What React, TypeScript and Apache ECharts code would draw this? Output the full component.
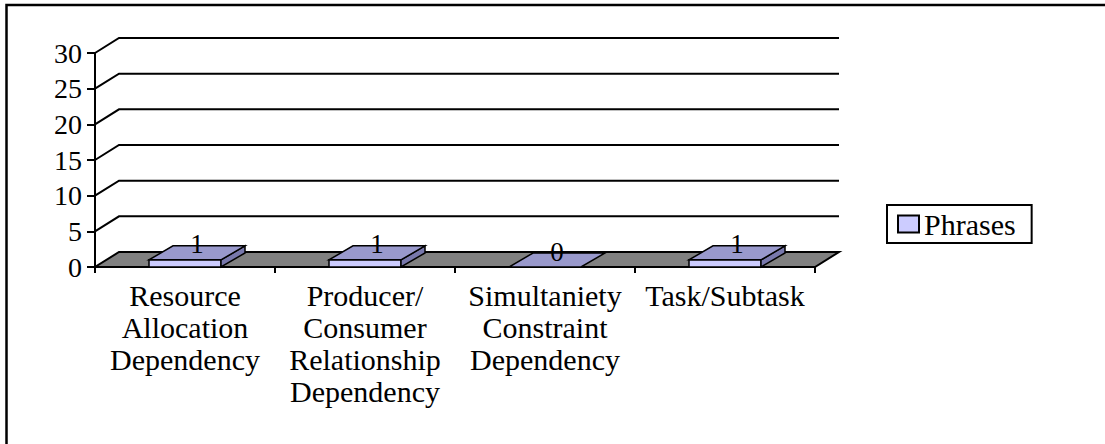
import React, { useEffect, useRef } from "react";
import * as echarts from "echarts";

const categories = [
  "Resource\nAllocation\nDependency",
  "Producer/\nConsumer\nRelationship\nDependency",
  "Simultaniety\nConstraint\nDependency",
  "Task/Subtask",
];
const phrases = [1, 1, 0, 1];
const yTicks = [0, 5, 10, 15, 20, 25, 30];
const seriesName = "Phrases";

const WALL_DX = 24;
const WALL_DY = -15;
const BAR_DX = 24;
const BAR_DY = -14;
const FONT = "Liberation Serif";

export default function App() {
  const ref = useRef<HTMLDivElement>(null);

  useEffect(() => {
    const chart = echarts.init(ref.current!, null, { renderer: "svg" });

    const wallRender = (params: any, api: any) => {
      const cs = params.coordSys;
      const v = api.value(1);
      const y = api.coord([0, v])[1];
      const x0 = cs.x;
      const x1 = cs.x + cs.width;
      if (v === 0) {
        return {
          type: "polygon",
          shape: {
            points: [
              [x0, y],
              [x1, y],
              [x1 + WALL_DX, y + WALL_DY],
              [x0 + WALL_DX, y + WALL_DY],
            ],
          },
          style: { fill: "#808080", stroke: "#000", lineWidth: 2 },
        };
      }
      return {
        type: "polyline",
        shape: {
          points: [
            [x0, y],
            [x0 + WALL_DX, y + WALL_DY],
            [x1 + WALL_DX, y + WALL_DY],
          ],
        },
        style: { fill: "none", stroke: "#000", lineWidth: 2 },
      };
    };

    const barRender = (params: any, api: any) => {
      const idx = api.value(0);
      const v = api.value(1);
      const base = api.coord([idx, 0]);
      const top = api.coord([idx, v]);
      const w = api.size([1, 0])[0] * 0.4;
      const x0 = base[0] - w / 2;
      const x1 = base[0] + w / 2;
      const yb = base[1];
      const yt = top[1];
      const stroke = { stroke: "#000", lineWidth: 1.5 };
      const children: any[] = [];
      if (v > 0) {
        children.push({
          type: "polygon",
          shape: { points: [[x0, yt], [x1, yt], [x1, yb], [x0, yb]] },
          style: { fill: "#CCCCFF", ...stroke },
        });
        children.push({
          type: "polygon",
          shape: {
            points: [
              [x1, yt],
              [x1, yb],
              [x1 + BAR_DX, yb + BAR_DY],
              [x1 + BAR_DX, yt + BAR_DY],
            ],
          },
          style: { fill: "#7878AC", ...stroke },
        });
      }
      children.push({
        type: "polygon",
        shape: {
          points: [
            [x0, yt],
            [x1, yt],
            [x1 + BAR_DX, yt + BAR_DY],
            [x0 + BAR_DX, yt + BAR_DY],
          ],
        },
        style: { fill: "#9999CC", ...stroke },
      });
      children.push({
        type: "text",
        x: (x0 + x1) / 2 + BAR_DX / 2,
        y: yt + BAR_DY / 2 + 5,
        style: {
          text: String(v),
          fontFamily: FONT,
          fontSize: 27,
          fill: "#000",
          align: "center",
          verticalAlign: "bottom",
        },
      });
      return { type: "group", children };
    };

    const option: any = {
      animation: false,
      backgroundColor: "#fff",
      textStyle: { fontFamily: FONT },
      grid: { left: 95, top: 53, width: 720, height: 214, containLabel: false },
      xAxis: {
        type: "category",
        data: categories,
        axisLine: { lineStyle: { color: "#000", width: 2 } },
        axisTick: { show: true, length: 6, lineStyle: { color: "#000", width: 2 } },
        axisLabel: {
          fontFamily: FONT,
          fontSize: 30,
          lineHeight: 32,
          color: "#000",
          margin: 12,
          interval: 0,
        },
        splitLine: { show: false },
      },
      yAxis: {
        type: "value",
        min: 0,
        max: 30,
        interval: 5,
        axisLine: { show: true, lineStyle: { color: "#000", width: 2 } },
        axisTick: { show: true, length: 8, lineStyle: { color: "#000", width: 2 } },
        axisLabel: { fontFamily: FONT, fontSize: 28, color: "#000", margin: 13 },
        splitLine: { show: false },
      },
      legend: {
        data: [{ name: seriesName, icon: "rect" }],
        left: 887,
        top: 205,
        orient: "vertical",
        padding: [4, 16, 4, 10],
        itemWidth: 21,
        itemHeight: 17,
        itemStyle: { borderColor: "#000", borderWidth: 2 },
        textStyle: { fontFamily: FONT, fontSize: 30, color: "#000", lineHeight: 30 },
        borderColor: "#000",
        borderWidth: 2,
        selectedMode: false,
      },
      graphic: [
        {
          type: "rect",
          shape: { x: 6.5, y: 5, width: 1200, height: 600 },
          style: { fill: "none", stroke: "#000", lineWidth: 2.5 },
          silent: true,
          z: 100,
        },
      ],
      series: [
        {
          type: "custom",
          name: "_wall",
          data: yTicks.map((v) => [0, v]),
          encode: { x: 0, y: 1 },
          renderItem: wallRender,
          silent: true,
          z: 1,
        },
        {
          type: "custom",
          name: seriesName,
          data: phrases.map((v, i) => [i, v]),
          encode: { x: 0, y: 1 },
          itemStyle: { color: "#CCCCFF" },
          renderItem: barRender,
          z: 3,
        },
      ],
    };

    chart.setOption(option);
    return () => chart.dispose();
  }, []);

  return (
    <div
      ref={ref}
      style={{ position: "fixed", left: 0, top: 0, width: 1105, height: 444 }}
    />
  );
}
